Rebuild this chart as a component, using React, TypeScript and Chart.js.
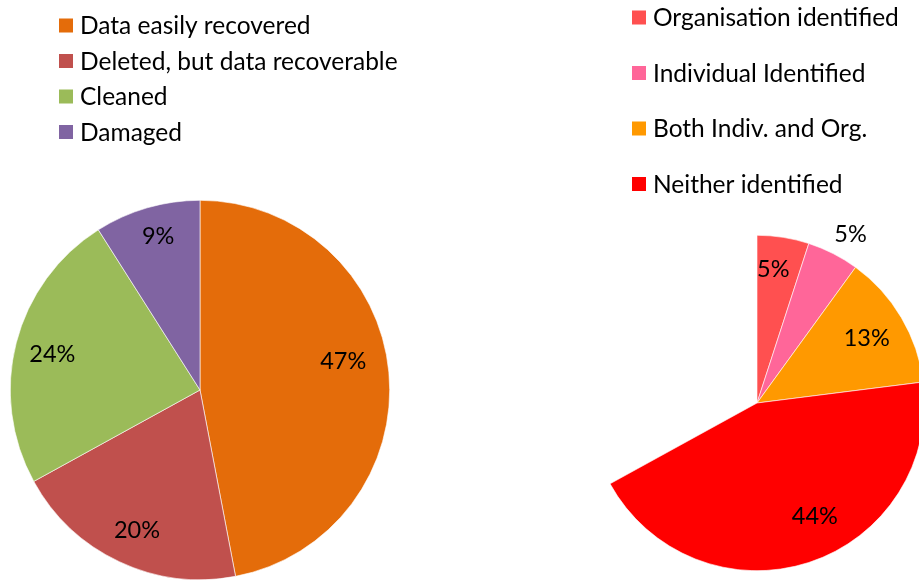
import React, { useEffect, useRef } from "react";
import { Chart, registerables } from "chart.js";

Chart.register(...registerables);

const leftCategories = ["Data easily recovered", "Deleted, but data recoverable", "Cleaned", "Damaged"];
const leftValues = [47, 20, 24, 9];
const leftColors = ["#E46C0A", "#C0504D", "#9BBB59", "#8064A2"];

const rightCategories = ["Organisation identified", "Individual Identified", "Both Indiv. and Org.", "Neither identified"];
const rightValues = [5, 5, 13, 44];
const rightRemainder = 33;
const rightColors = ["#FF5050", "#FF6699", "#FF9900", "#FF0000"];

const FONT = "Lato, 'Open Sans', sans-serif";

const piePlugin = {
  id: "pieDecor",
  afterDatasetsDraw(chart: any, _args: any, opts: any) {
    const ctx = chart.ctx;
    const meta = chart.getDatasetMeta(0);
    const data: number[] = chart.data.datasets[0].data;
    const total = data.reduce((a: number, b: number) => a + b, 0);
    ctx.save();
    ctx.fillStyle = "#000";
    ctx.textAlign = "center";
    ctx.textBaseline = "middle";
    ctx.font = `${opts.labelSize}px ${FONT}`;
    meta.data.forEach((arc: any, i: number) => {
      if (i >= opts.count) return;
      const p = arc.getProps(["x", "y", "startAngle", "endAngle", "outerRadius"], true);
      const mid = (p.startAngle + p.endAngle) / 2 + ((opts.angleOffset[i] || 0) * Math.PI) / 180;
      const r = p.outerRadius * opts.radius[i];
      const pct = Math.round((data[i] / total) * 100) + "%";
      ctx.fillText(pct, p.x + Math.cos(mid) * r, p.y + Math.sin(mid) * r);
    });
    // legend
    const lg = opts.legend;
    ctx.textAlign = "left";
    ctx.font = `${lg.size}px ${FONT}`;
    lg.labels.forEach((lab: string, i: number) => {
      const cy = lg.y0 + i * lg.dy;
      ctx.fillStyle = lg.colors[i];
      ctx.fillRect(lg.x, cy - lg.box / 2, lg.box, lg.box);
      ctx.fillStyle = "#000";
      ctx.fillText(lab, lg.x + lg.box + lg.gap, cy + 1);
    });
    ctx.restore();
  },
};

function PieCanvas(props: {
  width: number;
  height: number;
  left: number;
  values: number[];
  colors: string[];
  count: number;
  padding: any;
  decor: any;
}) {
  const ref = useRef<HTMLCanvasElement>(null);
  useEffect(() => {
    if (!ref.current) return;
    const chart = new Chart(ref.current, {
      type: "pie",
      data: {
        labels: props.values.map((_, i) => String(i)),
        datasets: [
          {
            data: props.values,
            backgroundColor: props.colors,
            borderColor: props.colors.map((c) => (c === "rgba(0,0,0,0)" ? "rgba(0,0,0,0)" : "#ffffff")),
            borderWidth: 0.6,
          },
        ],
      },
      options: {
        animation: false,
        responsive: false,
        devicePixelRatio: 1,
        layout: { padding: props.padding },
        plugins: {
          legend: { display: false },
          tooltip: { enabled: false },
          pieDecor: props.decor,
        } as any,
      },
      plugins: [piePlugin],
    });
    return () => chart.destroy();
  }, []);
  return (
    <canvas
      ref={ref}
      width={props.width}
      height={props.height}
      style={{ position: "absolute", left: props.left, top: 0, width: props.width, height: props.height }}
    />
  );
}

export default function App() {
  return (
    <div
      style={{
        position: "fixed",
        left: 0,
        top: 0,
        width: 919,
        height: 580,
        overflow: "hidden",
        background: "#fff",
      }}
    >
      <PieCanvas
        width={460}
        height={580}
        left={0}
        values={leftValues}
        colors={leftColors}
        count={4}
        padding={{ left: 10, right: 70, top: 200, bottom: 0 }}
        decor={{
          count: 4,
          labelSize: 23.5,
          radius: [0.77, 0.81, 0.8, 0.84],
          angleOffset: [-6, -1, -1, 1],
          legend: {
            labels: leftCategories,
            colors: leftColors,
            x: 59,
            y0: 25.5,
            dy: 35.5,
            box: 14,
            gap: 7,
            size: 24.5,
          },
        }}
      />
      <PieCanvas
        width={480}
        height={580}
        left={460}
        values={[...rightValues, rightRemainder]}
        colors={[...rightColors, "rgba(0,0,0,0)"]}
        count={4}
        padding={{ left: 129, right: 15, top: 235, bottom: 9 }}
        decor={{
          count: 4,
          labelSize: 23.5,
          radius: [0.8, 1.15, 0.76, 0.76],
          angleOffset: [-2, 2, 0, -9],
          legend: {
            labels: rightCategories,
            colors: rightColors,
            x: 172,
            y0: 17.5,
            dy: 55.5,
            box: 14,
            gap: 7,
            size: 24.5,
          },
        }}
      />
    </div>
  );
}
